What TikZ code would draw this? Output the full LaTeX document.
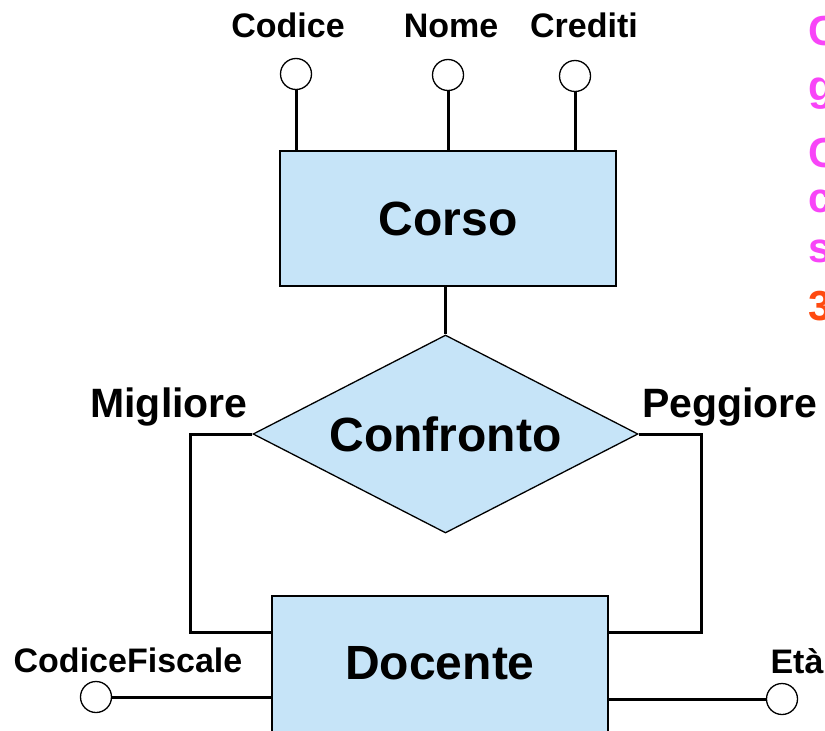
\documentclass[tikz,border=0pt]{standalone}
\usepackage{fontspec}
\setmainfont{Liberation Sans}
\usetikzlibrary{shapes.geometric}
\definecolor{erblue}{HTML}{C6E4F8}
\definecolor{notepink}{HTML}{F845F8}
\definecolor{noteorange}{HTML}{FF4A10}
\tikzset{
  entity/.style={draw,fill=erblue,line width=1.3pt,inner sep=0pt,font=\fontsize{48}{52}\selectfont\bfseries},
  attr/.style={circle,draw,fill=white,line width=1.3pt,minimum size=31pt,inner sep=0pt},
  attrlbl/.style={anchor=base,inner sep=0pt,font=\fontsize{34}{38}\selectfont\bfseries},
  rolelbl/.style={anchor=base,inner sep=0pt,font=\fontsize{41}{45}\selectfont\bfseries},
  note/.style={anchor=base west,inner sep=0pt,font=\fontsize{42}{46}\selectfont\bfseries},
  link/.style={line width=3pt}
}
\begin{document}
\begin{tikzpicture}[x=1pt,y=-1pt]
\clip (0,0) rectangle (825,731);
% entities and relationship
\node[entity,minimum width=336pt,minimum height=135pt] (corso) at (448,218.5) {Corso};
\node[entity,diamond,aspect=1.95,minimum width=385pt,minimum height=198pt] (confronto) at (445.5,434) {Confronto};
\node[entity,minimum width=336pt,minimum height=170pt] (docente) at (440,681) {};
\node[inner sep=0pt,font=\fontsize{48}{52}\selectfont\bfseries] (docentelbl) at (440,663) {Docente};
% attributes of Corso
\node[attr] (codice) at (296,74) {};   \node[attrlbl] (codicelbl) at (288,37) {Codice};
\node[attr] (nome) at (448,75) {};     \node[attrlbl] (nomelbl) at (451,37) {Nome};
\node[attr] (crediti) at (575,76) {};  \node[attrlbl] (creditilbl) at (584,37) {Crediti};
\draw[link] (codice) -- (codice |- corso.north);
\draw[link] (nome) -- (nome |- corso.north);
\draw[link] (crediti) -- (crediti |- corso.north);
% attributes of Docente
\node[attr] (codfisc) at (96,697) {};  \node[attrlbl] (codfisclbl) at (128,672) {CodiceFiscale};
\node[attr] (eta) at (782,699) {};     \node[attrlbl] (etalbl) at (797,673) {Età};
\draw[link] (codfisc) -- (codfisc -| docente.west);
\draw[link] (eta) -- (eta -| docente.east);
% roles
\coordinate (docml) at (docente.west |- 0,632); \coordinate (docpg) at (docente.east |- 0,632);
\draw[link] (confronto.north) -- (confronto.north |- corso.south);
\draw[link] (confronto.west) -- (190,434) -- (190,632) -- (docml);
\draw[link] (confronto.east) -- (701,434) -- (701,632) -- (docpg);
\node[rolelbl] (migliore) at (169,417) {Migliore};
\node[rolelbl] (peggiore) at (730,417) {Peggiore};
% text cut at the right edge
\node[note,text=notepink] (nota1) at (808,45) {C};
\node[note,text=notepink] (nota2) at (808,100) {g};
\node[note,text=notepink] (nota3) at (808,167) {C};
\node[note,text=notepink] (nota4) at (808,212) {c};
\node[note,text=notepink] (nota5) at (808,262) {s};
\node[note,text=noteorange] (nota6) at (808,320) {3};
\end{tikzpicture}
\end{document}
